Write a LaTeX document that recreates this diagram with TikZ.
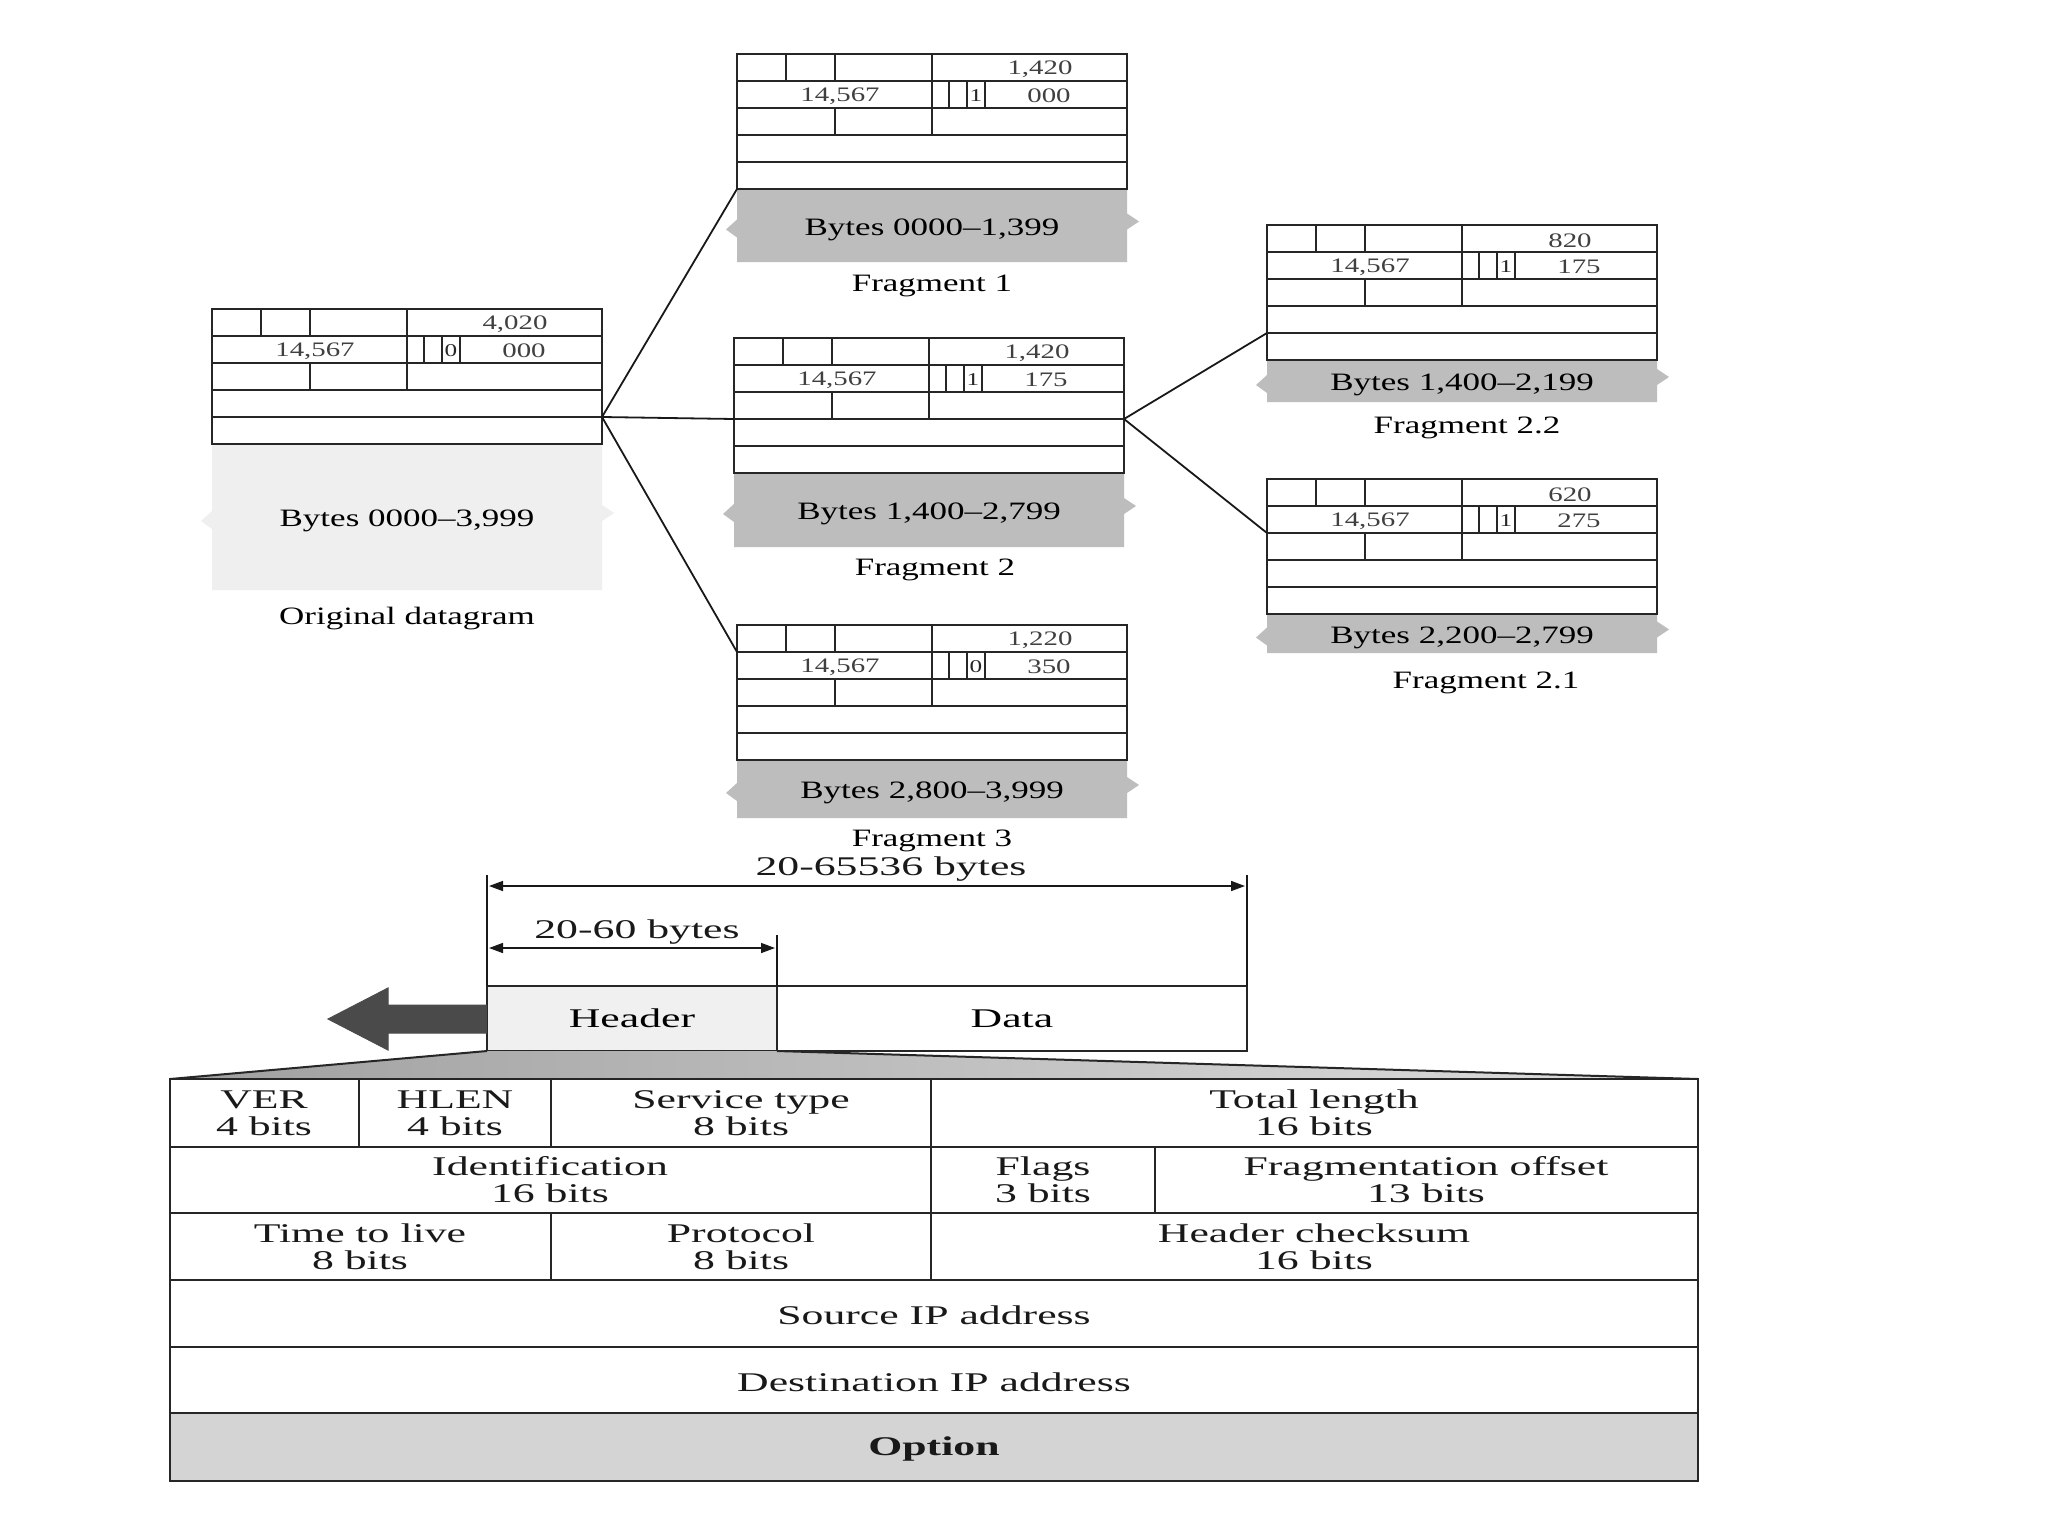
\documentclass[tikz,border=0pt]{standalone}
\usepackage{fontspec}
\setmainfont{Liberation Serif}
\newfontfamily\topfont[FakeStretch=1.4]{Liberation Serif}
\newfontfamily\botfont[FakeStretch=1.62]{Liberation Serif}
\usetikzlibrary{arrows.meta,calc}
\definecolor{fraggray}{HTML}{BDBDBD}
\definecolor{origgray}{HTML}{EFEFEF}
\definecolor{hdrgray}{HTML}{F0F0F0}
\definecolor{optgray}{HTML}{D4D4D4}
\definecolor{arrowgray}{HTML}{4A4A4A}
\tikzset{
  frame/.style={draw=black!85, line width=1pt, minimum width=195pt, minimum height=67.5pt, inner sep=0pt, outer sep=0pt},
  rule/.style={draw=black!85, line width=1pt},
  numtext/.style={font=\topfont\fontsize{10.3}{10.3}\selectfont, text=black!75, inner sep=0pt},
  flagtext/.style={font=\topfont\fontsize{9}{9}\selectfont, text=black!85, inner sep=0pt},
  bandtext/.style={font=\topfont\fontsize{12.5}{14}\selectfont, text=black, inner sep=0pt},
  captext/.style={font=\topfont\fontsize{12.5}{14}\selectfont, text=black, inner sep=0pt},
  conn/.style={draw=black!90, line width=0.9pt},
  bottext/.style={font=\botfont\fontsize{13.5}{13.5}\selectfont, text=black!90, align=center, inner sep=0pt},
  tline/.style={draw=black!85, line width=1pt},
  dimline/.style={draw=black!90, line width=0.8pt, {Triangle[length=7pt,width=5pt]}-{Triangle[length=7pt,width=5pt]}},
  tick/.style={draw=black!90, line width=0.8pt},
}
% #1 name, #2 left, #3 top, #4 total length, #5 flag, #6 offset
\newcommand\ipbox[6]{%
  \begin{scope}[shift={(#2,#3)}]
    \node[frame, anchor=north west] (#1) at (0,0) {};
    \foreach \r in {1,2,3,4} {\draw[rule] (0,27*\r) -- (390,27*\r);}
    \draw[rule] (49,0) -- (49,27) (98,0) -- (98,27) (195,0) -- (195,81)
                (212,27) -- (212,54) (230,27) -- (230,54) (248,27) -- (248,54)
                (98,54) -- (98,81);
    \node[numtext] (#1-tl) at (303,15.5) {#4};
    \node[numtext] (#1-id) at (103,42) {14,567};
    \node[flagtext] (#1-fl) at (239,41.5) {#5};
    \node[numtext] (#1-off) at (312,42) {#6};
    \coordinate (#1-L1) at (0,27);
    \coordinate (#1-L2) at (0,54);
    \coordinate (#1-L3) at (0,81);
    \coordinate (#1-L4) at (0,108);
    \coordinate (#1-L5) at (0,135);
    \coordinate (#1-R3) at (390,81);
    \coordinate (#1-R4) at (390,108);
  \end{scope}}
% #1 name, #2 left, #3 top, #4 bottom, #5 colour, #6 text
\newcommand\band[6]{%
  \pgfmathsetmacro\bm{(#3+#4)/2}
  \fill[#5] (#2,#3) -- (#2+390,#3) -- (#2+390,\bm-12) -- (#2+402,\bm-4) -- (#2+390,\bm+4)
     -- (#2+390,#4) -- (#2,#4) -- (#2,\bm+12) -- (#2-11,\bm+4) -- (#2,\bm-6) -- cycle;
  \node[bandtext] (#1) at (#2+195,\bm+4) {#6};}
\begin{document}
\begin{tikzpicture}[x=0.5pt,y=-0.5pt]
\fill[white] (0,0) rectangle (2048,1536);
\useasboundingbox (0,0) rectangle (2048,1536);

% ---------- bands ----------
\band{orig-b}{212}{444}{590}{origgray}{Bytes 0000–3,999}
\band{f1-b}{737}{189}{262}{fraggray}{Bytes 0000–1,399}
\band{f2-b}{734}{473}{547}{fraggray}{Bytes 1,400–2,799}
\band{f3-b}{737}{760}{818}{fraggray}{Bytes 2,800–3,999}
\band{f22-b}{1267}{360}{402}{fraggray}{Bytes 1,400–2,199}
\band{f21-b}{1267}{614}{653}{fraggray}{Bytes 2,200–2,799}

% ---------- header boxes ----------
\ipbox{orig}{212}{309}{4,020}{0}{000}
\ipbox{f1}{737}{54}{1,420}{1}{000}
\ipbox{f2}{734}{338}{1,420}{1}{175}
\ipbox{f3}{737}{625}{1,220}{0}{350}
\ipbox{f22}{1267}{225}{820}{1}{175}
\ipbox{f21}{1267}{479}{620}{1}{275}

% ---------- captions ----------
\node[captext] (cap-orig) at (407,619) {Original datagram};
\node[captext] (cap-f1) at (932,286) {Fragment 1};
\node[captext] (cap-f2) at (935,570) {Fragment 2};
\node[captext] (cap-f3) at (932,841) {Fragment 3};
\node[captext] (cap-f22) at (1467,428) {Fragment 2.2};
\node[captext] (cap-f21) at (1486,683) {Fragment 2.1};

% ---------- connectors ----------
\draw[conn] (orig-R4) -- (f1-L5);
\draw[conn] (orig-R4) -- (f2-L3);
\draw[conn] (orig-R4) -- (f3-L1);
\draw[conn] (f2-R3) -- (f22-L4);
\draw[conn] (f2-R3) -- (f21-L2);

% ---------- datagram: header + data ----------
\node[draw=black!85, line width=1pt, fill=hdrgray, anchor=north west, minimum width=145pt, minimum height=32.5pt, inner sep=0pt, outer sep=0pt, font=\botfont\fontsize{13.5}{13.5}\selectfont] (hdr) at (487,986) {Header};
\node[draw=black!85, line width=1pt, anchor=north west, minimum width=235pt, minimum height=32.5pt, inner sep=0pt, outer sep=0pt, font=\botfont\fontsize{13.5}{13.5}\selectfont] (data) at (777,986) {Data};

\draw[tick] (hdr.north west) -- ++(0,-111) coordinate (tkA);
\draw[tick] (data.north east) -- ++(0,-111) coordinate (tkB);
\draw[tick] (hdr.north east) -- ++(0,-51) coordinate (tkC);
\coordinate (d1a) at (489,886);
\coordinate (d1b) at (1245,886);
\coordinate (d2a) at (489,948);
\coordinate (d2b) at (775,948);
\draw[dimline] (d1a) -- (d1b);
\draw[dimline] (d2a) -- (d2b);
\node[bottext] (lbl-total) at (891,869) {20-65536 bytes};
\node[bottext] (lbl-hdr) at (637,932) {20-60 bytes};

% big arrow
\fill[arrowgray] (487,1005) -- (388,1005) -- (388,988) -- (328,1019) -- (388,1050) -- (388,1033) -- (487,1033) -- cycle;
\draw[black!70, line width=0.5pt] (487,1005) -- (388,1005) -- (388,988) -- (328,1019) -- (388,1050) -- (388,1033) -- (487,1033);

% zoom wedge
\shade[left color=gray!75, right color=gray!25] (hdr.south west) -- (hdr.south east) -- (1698,1079) -- (170,1079) -- cycle;
\draw[tline] (hdr.south west) -- (170,1079);
\draw[tline] (hdr.south east) -- (1698,1079);

% ---------- IP header table ----------
\fill[optgray] (170,1413) rectangle (1698,1481);
\draw[tline] (170,1079) rectangle (1698,1481);
\foreach \yy in {1147,1213,1280,1347,1413} {\draw[tline] (170,\yy) -- (1698,\yy);}
\draw[tline] (359,1079) -- (359,1147);
\draw[tline] (551,1079) -- (551,1147);
\draw[tline] (931,1079) -- (931,1280);
\draw[tline] (1155,1147) -- (1155,1213);
\draw[tline] (551,1213) -- (551,1280);

\node[bottext] (c-ver) at (264,1113) {VER\\4 bits};
\node[bottext] (c-hlen) at (455,1113) {HLEN\\4 bits};
\node[bottext] (c-st) at (741,1113) {Service type\\8 bits};
\node[bottext] (c-tl) at (1314,1113) {Total length\\16 bits};
\node[bottext] (c-id) at (550,1180) {Identification\\16 bits};
\node[bottext] (c-fl) at (1043,1180) {Flags\\3 bits};
\node[bottext] (c-fo) at (1426,1180) {Fragmentation offset\\13 bits};
\node[bottext] (c-ttl) at (360,1247) {Time to live\\8 bits};
\node[bottext] (c-pr) at (741,1247) {Protocol\\8 bits};
\node[bottext] (c-hc) at (1314,1247) {Header checksum\\16 bits};
\node[bottext] (c-src) at (934,1315) {Source IP address};
\node[bottext] (c-dst) at (934,1382) {Destination IP address};
\node[bottext, font=\botfont\bfseries\fontsize{13.5}{13.5}\selectfont] (c-opt) at (934,1449) {Option};
\end{tikzpicture}
\end{document}
